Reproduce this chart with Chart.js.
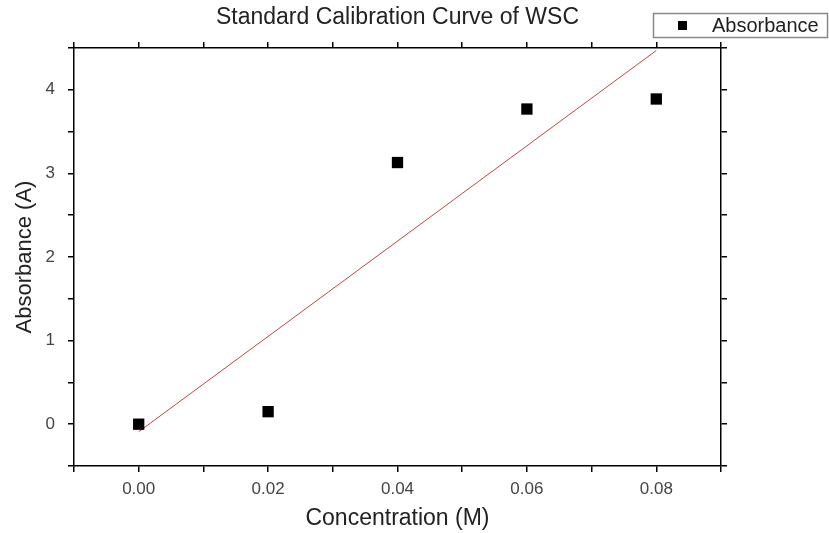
<!DOCTYPE html>
<html>
<head>
<meta charset="utf-8">
<script src="https://cdn.jsdelivr.net/npm/chart.js"></script>
<style>
  html, body { margin: 0; padding: 0; background: #fff; overflow: hidden; }
  #cal { display: block; }
</style>
</head>
<body>
<canvas id="cal" width="829" height="533"></canvas>
<script>
// Datos
const concentracion = [0.00, 0.02, 0.04, 0.06, 0.08];
const absorbancia   = [0.00, 0.15, 3.13, 3.77, 3.89];
// Recta de ajuste (extremos)
const ajusteX = [0.00, 0.08];
const ajusteY = [-0.09, 4.47];

const FONT = "'Liberation Sans', Arial, sans-serif";

// Leyenda dibujada a mano en la esquina superior derecha
const legendBox = {
  id: 'legendBox',
  afterDraw(chart) {
    const c = chart.ctx;
    c.save();
    c.strokeStyle = '#888';
    c.lineWidth = 1.5;
    c.strokeRect(653.5, 13.5, 174, 24);
    c.fillStyle = '#000';
    c.fillRect(678, 21, 9, 9);
    c.fillStyle = '#222';
    c.font = `20px ${FONT}`;
    c.textBaseline = 'middle';
    c.fillText('Absorbance', 712, 26);
    c.restore();
  }
};

function ejeComun(extra) {
  return Object.assign({
    type: 'linear',
    grid: { display: true, drawOnChartArea: false, drawTicks: true, tickLength: 6, color: '#000', lineWidth: 1.5 },
    border: { display: true, color: '#000', width: 1.5 }
  }, extra);
}

const ctx = document.getElementById('cal').getContext('2d');
new Chart(ctx, {
  data: {
    datasets: [
      {
        type: 'line',
        label: 'Ajuste',
        data: ajusteX.map((x, i) => ({ x, y: ajusteY[i] })),
        borderColor: 'rgba(185, 50, 50, 0.9)',
        borderWidth: 1,
        pointRadius: 0,
        fill: false,
        order: 2,
        xAxisID: 'x',
        yAxisID: 'y'
      },
      {
        type: 'scatter',
        label: 'Absorbance',
        data: concentracion.map((x, i) => ({ x, y: absorbancia[i] })),
        backgroundColor: '#000',
        borderColor: '#000',
        pointStyle: 'rect',
        pointRadius: 8,
        borderWidth: 0,
        order: 1,
        xAxisID: 'x',
        yAxisID: 'y'
      }
    ]
  },
  options: {
    responsive: false,
    animation: false,
    devicePixelRatio: 1,
    layout: { padding: 0 },
    plugins: {
      legend: { display: false },
      tooltip: { enabled: false },
      title: {
        display: true,
        fullSize: false,
        text: 'Standard Calibration Curve of WSC',
        font: { family: FONT, size: 23, weight: 'normal' },
        color: '#222',
        padding: { top: 4, bottom: 4 }
      }
    },
    scales: {
      x: ejeComun({
        position: 'bottom',
        min: -0.01, max: 0.09,
        afterFit: s => { s.height = 67; },
        afterBuildTicks: s => {
          s.ticks = [];
          for (let i = -1; i <= 9; i++) s.ticks.push({ value: i / 100 });
        },
        ticks: {
          color: '#444', padding: 7, maxRotation: 0, autoSkip: false,
          font: { family: FONT, size: 17 },
          callback: v => {
            const k = Math.round(v * 100);
            return (k >= 0 && k % 2 === 0) ? (k / 100).toFixed(2) : '';
          }
        },
        title: {
          display: true, text: 'Concentration (M)', color: '#222',
          font: { family: FONT, size: 23 }, padding: { top: 0, bottom: 1 }
        }
      }),
      y: ejeComun({
        position: 'left',
        min: -0.5, max: 4.5,
        afterFit: s => { s.width = 74; },
        afterBuildTicks: s => {
          s.ticks = [];
          for (let i = -1; i <= 9; i++) s.ticks.push({ value: i / 2 });
        },
        ticks: {
          color: '#444', padding: 13, autoSkip: false,
          font: { family: FONT, size: 17 },
          callback: v => (Math.abs(v - Math.round(v)) < 1e-9 ? String(Math.round(v)) : '')
        },
        title: {
          display: true, text: 'Absorbance (A)', color: '#222',
          font: { family: FONT, size: 22 }, padding: { top: 12, bottom: 0 }
        }
      }),
      x2: ejeComun({
        position: 'top',
        min: -0.01, max: 0.09,
        afterFit: s => { s.height = 12.4; },
        afterBuildTicks: s => {
          s.ticks = [];
          for (let i = -1; i <= 9; i++) s.ticks.push({ value: i / 100 });
        },
        ticks: { display: false }
      }),
      y2: ejeComun({
        position: 'right',
        min: -0.5, max: 4.5,
        afterFit: s => { s.width = 108; },
        afterBuildTicks: s => {
          s.ticks = [];
          for (let i = -1; i <= 9; i++) s.ticks.push({ value: i / 2 });
        },
        ticks: { display: false }
      })
    }
  },
  plugins: [legendBox]
});
</script>
</body>
</html>
